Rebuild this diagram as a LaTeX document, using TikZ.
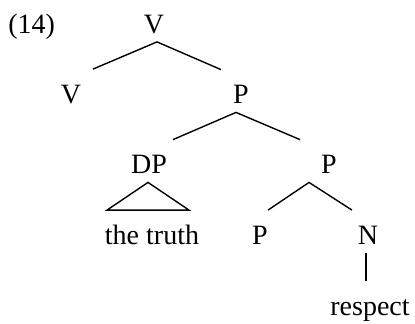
\documentclass[tikz,border=0pt]{standalone}
\usepackage{fontspec}
\setmainfont{Liberation Serif}
\begin{document}
\begin{tikzpicture}[x=0.5pt,y=-0.5pt,
    font=\fontsize{14}{17}\selectfont,
    cat/.style={anchor=base,inner sep=0pt,text height=16.75pt,text depth=4.25pt},
    branch/.style={line width=0.7pt}]
  \useasboundingbox (0,0) rectangle (415,323);

  % example number
  \node[anchor=base west,inner sep=0pt] (exnum) at (8,33) {(14)};

  % categories, placed on their baselines
  \node[cat] (vtop)    at (154,33)    {V};
  \node[cat] (vleft)   at (71,103)    {V};
  \node[cat] (pone)    at (241,103.5) {P};
  \node[cat] (dp)      at (149,173.5) {DP};
  \node[cat] (ptwo)    at (329,173.5) {P};
  \node[cat] (truth)   at (152,244)   {the truth};
  \node[cat] (pthree)  at (260,244)   {P};
  \node[cat] (n)       at (368,244)   {N};
  \node[cat] (respect) at (370,315)   {respect};

  % branches
  \draw[branch] ([xshift=11pt]vleft.north) -- ([xshift=1.5pt]vtop.south)
                -- ([xshift=-10pt]pone.north);
  \draw[branch] ([xshift=12pt]dp.north) -- ([xshift=-2.5pt]pone.south)
                -- ([xshift=-14.5pt]ptwo.north);
  \draw[branch] ([xshift=4pt]pthree.north) -- ([xshift=-10pt]ptwo.south)
                -- ([xshift=-8pt]n.north);
  \draw[branch] ([xshift=-1pt]n.south) -- ([xshift=-2pt]respect.north);

  % triangle over the unanalysed DP
  \draw[branch] ([xshift=-22.5pt]truth.north) -- ([xshift=-0.5pt]dp.south)
                -- ([xshift=18.5pt]truth.north) -- cycle;
\end{tikzpicture}
\end{document}
